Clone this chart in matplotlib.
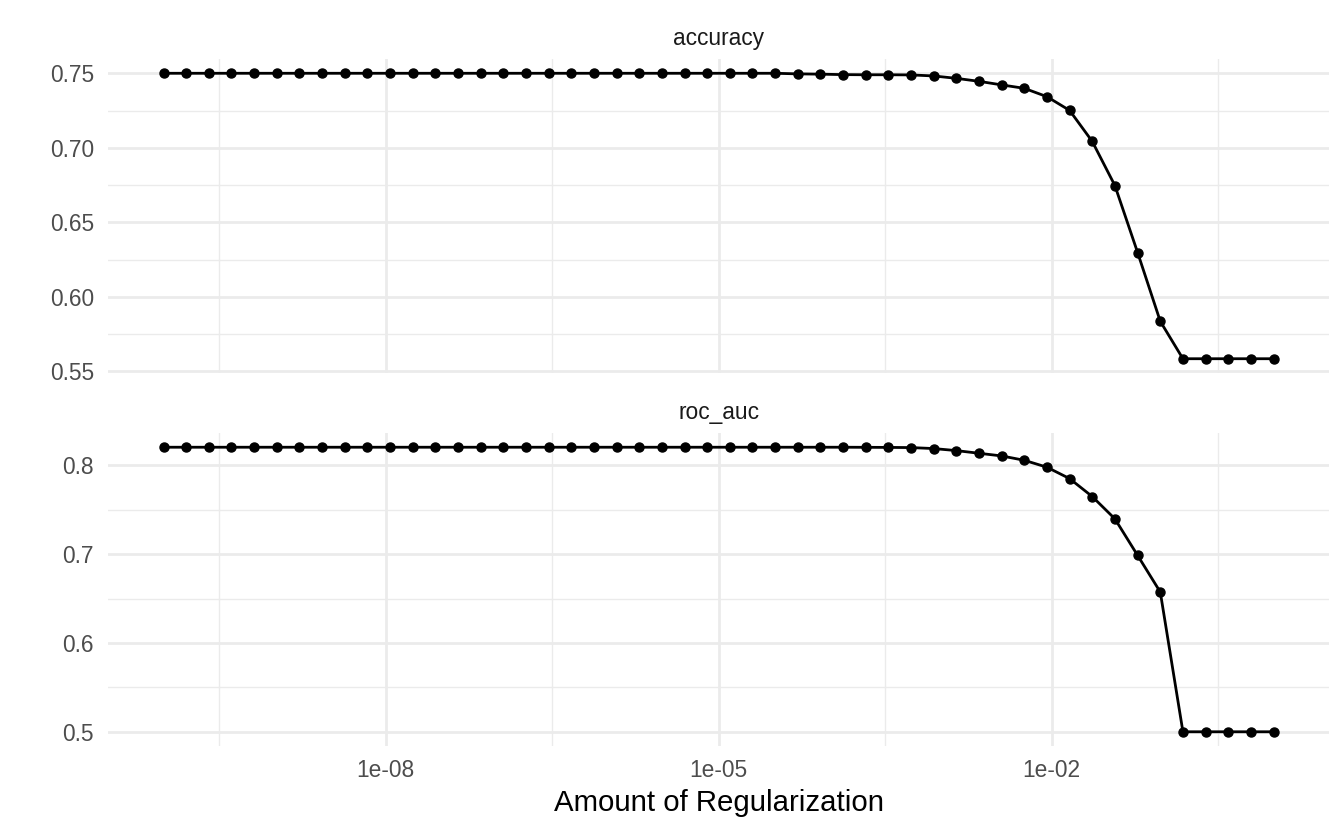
import numpy as np
import pandas as pd
import matplotlib
matplotlib.use('Agg')
import matplotlib.pyplot as plt
from matplotlib.ticker import FixedLocator, NullFormatter

plt.rcParams['font.family'] = ['Liberation Sans', 'DejaVu Sans']

# penalty 값 (log10), 50개 grid
log_penalty = [-10.0, -9.796, -9.592, -9.388, -9.184, -8.980, -8.776, -8.571, -8.367, -8.163,
               -7.959, -7.755, -7.551, -7.347, -7.143, -6.939, -6.735, -6.531, -6.327, -6.122,
               -5.918, -5.714, -5.510, -5.306, -5.102, -4.898, -4.694, -4.490, -4.286, -4.082,
               -3.878, -3.673, -3.469, -3.265, -3.061, -2.857, -2.653, -2.449, -2.245, -2.041,
               -1.837, -1.633, -1.429, -1.224, -1.020, -0.816, -0.612, -0.408, -0.204, 0.0]

accuracy = [0.7500, 0.7500, 0.7500, 0.7500, 0.7500, 0.7500, 0.7500, 0.7500, 0.7500, 0.7500,
            0.7500, 0.7500, 0.7500, 0.7500, 0.7500, 0.7500, 0.7500, 0.7500, 0.7500, 0.7500,
            0.7500, 0.7500, 0.7500, 0.7500, 0.7500, 0.7500, 0.7500, 0.7500, 0.7496, 0.7494,
            0.7491, 0.7490, 0.7490, 0.7489, 0.7482, 0.7466, 0.7446, 0.7422, 0.7399, 0.7343,
            0.7251, 0.7043, 0.6747, 0.6297, 0.5836, 0.5585, 0.5585, 0.5585, 0.5585, 0.5585]

roc_auc = [0.8203, 0.8203, 0.8203, 0.8203, 0.8203, 0.8203, 0.8203, 0.8203, 0.8203, 0.8203,
           0.8203, 0.8203, 0.8203, 0.8203, 0.8203, 0.8203, 0.8203, 0.8203, 0.8203, 0.8203,
           0.8203, 0.8203, 0.8203, 0.8203, 0.8203, 0.8203, 0.8203, 0.8203, 0.8203, 0.8203,
           0.8203, 0.8202, 0.8201, 0.8199, 0.8188, 0.8165, 0.8135, 0.8105, 0.8056, 0.7978,
           0.7850, 0.7648, 0.7397, 0.6985, 0.6573, 0.5000, 0.5000, 0.5000, 0.5000, 0.5000]

metric_names = ['accuracy', 'roc_auc']
y_ticks = {'accuracy': [0.55, 0.60, 0.65, 0.70, 0.75],
           'roc_auc': [0.5, 0.6, 0.7, 0.8]}
y_labels = {'accuracy': ['0.55', '0.60', '0.65', '0.70', '0.75'],
            'roc_auc': ['0.5', '0.6', '0.7', '0.8']}
x_ticks = [1e-08, 1e-05, 1e-02]
x_labels = ['1e-08', '1e-05', '1e-02']

# collect_metrics() 처럼 long format 으로
metrics = pd.DataFrame({
    'penalty': np.power(10.0, log_penalty * 2),
    '.metric': ['accuracy'] * len(accuracy) + ['roc_auc'] * len(roc_auc),
    'mean': accuracy + roc_auc,
})

W, H = 1344, 830
fig = plt.figure(figsize=(W / 100, H / 100), dpi=100)
fig.patch.set_facecolor('white')

# 패널 위치 (px)
left, right = 108, 1329
panels = {'accuracy': (59, 373), 'roc_auc': (433, 746)}

lo, hi = min(log_penalty), max(log_penalty)
span = hi - lo
x_minor = [10 ** (np.log10(t) - 1.5) for t in x_ticks] + [10 ** (np.log10(x_ticks[-1]) + 1.5)]

for name in metric_names:
    top, bottom = panels[name]
    ax = fig.add_axes([left / W, 1 - bottom / H, (right - left) / W, (bottom - top) / H])
    sub = metrics[metrics['.metric'] == name]

    ax.plot(sub['penalty'], sub['mean'], color='black', lw=2.0, zorder=3)
    ax.plot(sub['penalty'], sub['mean'], 'o', color='black', ms=6.5, zorder=4)

    ax.set_xscale('log')
    ax.set_xlim(10 ** (lo - 0.05 * span), 10 ** (hi + 0.05 * span))
    ymin, ymax = sub['mean'].min(), sub['mean'].max()
    ax.set_ylim(ymin - 0.05 * (ymax - ymin), ymax + 0.05 * (ymax - ymin))

    ax.xaxis.set_major_locator(FixedLocator(x_ticks))
    ax.xaxis.set_minor_locator(FixedLocator(x_minor))
    ax.xaxis.set_minor_formatter(NullFormatter())
    yt = y_ticks[name]
    ax.set_yticks(yt)
    ax.set_yticklabels(y_labels[name])
    step = yt[1] - yt[0]
    ax.yaxis.set_minor_locator(FixedLocator([t + step / 2 for t in [yt[0] - step] + yt]))

    if name == 'roc_auc':
        ax.set_xticklabels(x_labels)
    else:
        ax.set_xticklabels([])

    ax.grid(which='major', color='#EBEBEB', lw=2.0, zorder=0)
    ax.grid(which='minor', color='#EBEBEB', lw=1.0, zorder=0)
    ax.set_axisbelow(True)
    for s in ax.spines.values():
        s.set_visible(False)
    ax.tick_params(which='both', length=0)
    ax.tick_params(axis='y', labelsize=16.4, labelcolor='#4D4D4D', pad=10)
    ax.tick_params(axis='x', labelsize=16.4, labelcolor='#4D4D4D', pad=9.5)

    # facet strip
    fig.text(((left + right) / 2) / W, 1 - (top - 20) / H, name,
             ha='center', va='center', fontsize=16.4, color='#1A1A1A')

fig.text(((left + right) / 2) / W, 1 - 803 / H, 'Amount of Regularization',
         ha='center', va='center', fontsize=21.2, color='black')

fig.savefig('out.png', dpi=100)
